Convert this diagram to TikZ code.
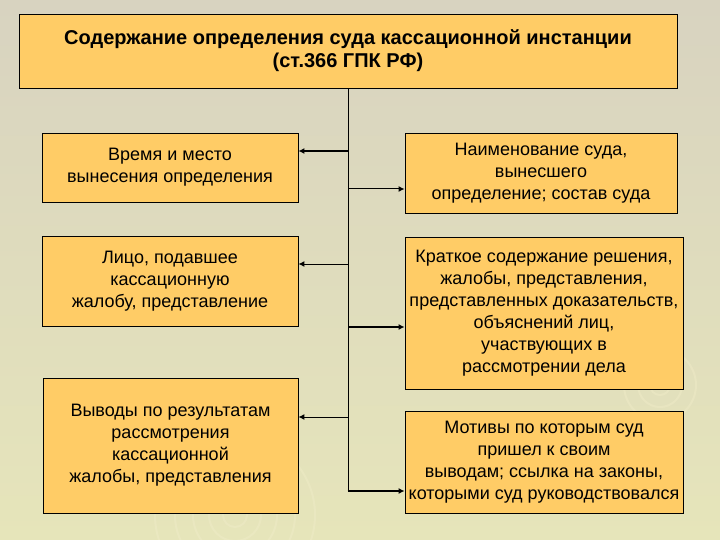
\documentclass[tikz,border=0pt]{standalone}
\usepackage{fontspec}
\setmainfont{Liberation Sans}
\usetikzlibrary{arrows.meta}
\definecolor{bgtop}{RGB}{216,211,192}
\definecolor{bgbot}{RGB}{230,229,186}
\definecolor{boxfill}{RGB}{255,204,102}
\definecolor{ripple}{RGB}{240,236,200}
\begin{document}
\begin{tikzpicture}[x=1pt,y=-1pt,
  box/.style={draw=black, line width=0.9pt, fill=boxfill, align=center, inner sep=0pt,
    font=\fontsize{18}{22}\selectfont},
  titlebox/.style={box, font=\fontsize{20}{23}\selectfont\bfseries},
  trunk/.style={draw=black, line width=1pt},
  thinarrow/.style={draw=black, line width=1pt, -{Latex[length=6pt,width=6pt]}},
  thickarrow/.style={draw=black, line width=2pt, -{Latex[length=6pt,width=6pt]}},
  ripplestyle/.style={draw=ripple, line width=2pt, opacity=0.45}]
\useasboundingbox (0,0) rectangle (720,540);
\fill[top color=bgtop, bottom color=bgbot] (0,0) rectangle (720,540);
% faint ripples
\begin{scope}
\clip (0,0) rectangle (720,540);
\foreach \r in {12,26,42,60,80}{\draw[ripplestyle] (235,515) circle[radius=\r];}
\foreach \r in {10,22,36}{\draw[ripplestyle] (660,385) circle[radius=\r];}
\end{scope}
% title
\node[titlebox, minimum width=658pt, minimum height=74pt] (title) at (348,51)
  {Содержание определения суда кассационной инстанции\\(ст.366 ГПК РФ)};
% left boxes
\node[box, minimum width=256pt, minimum height=69pt] (L1) at (170,167.5)
  {Время и место\\вынесения определения};
\node[box, minimum width=256pt, minimum height=90pt] (L2) at (170,281.5)
  {Лицо, подавшее\\кассационную\\жалобу, представление};
\node[box, minimum width=255pt, minimum height=135pt] (L3) at (170.5,445.5)
  {Выводы по результатам\\рассмотрения\\кассационной\\жалобы, представления};
% right boxes
\node[box, minimum width=272pt, minimum height=80pt] (R1) at (541,173)
  {Наименование суда,\\вынесшего\\определение; состав суда};
\node[box, minimum width=278pt, minimum height=152pt] (R2) at (544,313)
  {Краткое содержание решения,\\жалобы, представления,\\представленных доказательств,\\объяснений лиц,\\участвующих в\\рассмотрении дела};
\node[box, minimum width=278pt, minimum height=102pt] (R3) at (544,462)
  {Мотивы по которым суд\\пришел к своим\\выводам; ссылка на законы,\\которыми суд руководствовался};
% trunk
\coordinate (t1) at (348,151);
\coordinate (t2) at (348,189);
\coordinate (t3) at (348,264);
\coordinate (t4) at (348,327);
\coordinate (t5) at (348,417);
\coordinate (t6) at (348,491);
\draw[trunk] (title.south) -- (t6);
\draw[thickarrow] (t1) -- (L1.east |- t1);
\draw[thinarrow] (t2) -- (R1.west |- t2);
\draw[thinarrow] (t3) -- (L2.east |- t3);
\draw[thickarrow] (t4) -- (R2.west |- t4);
\draw[thinarrow] (t5) -- (L3.east |- t5);
\draw[thickarrow] ([xshift=-0.5pt]t6) -- (R3.west |- t6);
\end{tikzpicture}
\end{document}
